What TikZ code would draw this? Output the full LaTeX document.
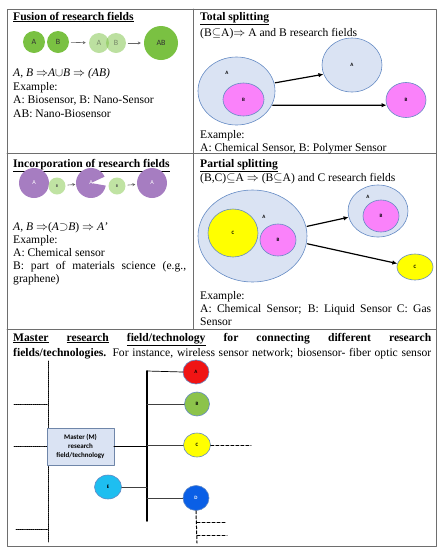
\documentclass[tikz,border=0pt]{standalone}
\usepackage{fontspec}
\setmainfont{Liberation Serif}
\newfontfamily\lblfont{Carlito}
\usetikzlibrary{shapes.geometric,arrows.meta}
\definecolor{frame_set}{RGB}{110,110,110}
\definecolor{fuse_set}{RGB}{122,193,66}
\definecolor{purple_set}{RGB}{166,125,193}
\definecolor{mint_set}{RGB}{192,227,163}
\definecolor{field_set}{RGB}{218,227,243}
\definecolor{edge_set}{RGB}{100,138,196}
\definecolor{pink_set}{RGB}{250,130,250}
\definecolor{yellow_set}{RGB}{255,255,0}
\definecolor{red_set}{RGB}{240,20,20}
\definecolor{green_set}{RGB}{140,195,75}
\definecolor{cyan_set}{RGB}{30,190,240}
\definecolor{blue_set}{RGB}{10,95,230}
\definecolor{box_set}{RGB}{218,227,243}
\colorlet{boxedge_set}{edge_set!60!gray}

\begin{document}
\begin{tikzpicture}[x=1pt,y=-1pt,line cap=round,line join=round,
  txt/.style={anchor=base west,inner sep=0pt,font=\fontsize{11.6}{13.3}\selectfont},
  fus/.style={circle,inner sep=0pt,minimum size=22pt,fill=fuse_set,
    font=\lblfont\fontsize{8}{9}\selectfont,text=black!80},
  inc/.style={circle,inner sep=0pt,minimum size=30pt,fill=purple_set,
    font=\lblfont\fontsize{6}{7}\selectfont,text=white},
  incb/.style={circle,inner sep=0pt,minimum size=17pt,fill=mint_set,
    font=\lblfont\bfseries\fontsize{4}{5}\selectfont,text=black!70},
  fld/.style={ellipse,draw=edge_set,line width=0.6pt,inner sep=0pt,
    font=\lblfont\bfseries\fontsize{5}{6}\selectfont},
  tag/.style={inner sep=0pt,font=\lblfont\bfseries\fontsize{5}{6}\selectfont},
  arrowgray/.style={draw=gray!80!black,line width=0.6pt,
    -{Stealth[length=3pt,width=3pt]},shorten <=2pt,shorten >=3pt},
  bigarrow/.style={line width=1.2pt,-{Latex[length=5pt,width=4.5pt]},shorten <=1pt},
  bus/.style={line width=1.8pt},
  branch/.style={line width=0.7pt,draw=black!75},
  dots/.style={densely dotted,line width=0.9pt},
  dashes/.style={dash pattern=on 3pt off 2pt,line width=1pt}]

\useasboundingbox (0,0) rectangle (444,550);

% Table frame
\coordinate (tl) at (7,9);
\coordinate (br) at (436,546);
\draw[line width=0.8pt,frame_set] (tl) rectangle (br);
\draw[line width=0.8pt,frame_set] (193,9) -- (193,329);
\draw[line width=0.8pt,frame_set] (7,153) -- (436,153);
\draw[line width=0.8pt,frame_set] (7,329) -- (436,329);

%-----------------------------------------------
% Fusion of research fields
%-----------------------------------------------
\node[txt] (t_fus0) at (13,20) {\underline{\textbf{Fusion of research fields}}};
\node[fus] (fA) at (34,42) {A};
\node[fus] (fB) at (58,42) {B};
\node[fus,minimum size=20pt,fill opacity=0.5] (fA2) at (99,43) {A};
\node[fus,minimum size=20pt,fill opacity=0.5] (fB2) at (116,43) {B};
\node[fus,minimum size=34pt] (fAB) at (161,43) {AB};
\draw[arrowgray] (fB) -- (fA2);
\draw[arrowgray] (fB2) -- (fAB);

\node[txt] (t_fus1) at (13,76) {\textit{A, B} $\Rightarrow$\textit{A}$\cup$\textit{B} $\Rightarrow$ \textit{(AB)}};
\node[txt] (t_fus2) at (13,90) {Example:};
\node[txt] (t_fus3) at (13,103) {A: Biosensor, B: Nano-Sensor};
\node[txt] (t_fus4) at (13,117) {AB: Nano-Biosensor};

%-----------------------------------------------
% Total splitting
%-----------------------------------------------
\node[txt] (t_tot0) at (200,20) {\underline{\textbf{Total splitting}}};
\node[txt] (t_tot1) at (200,36) {(B$\subseteq$A)$\Rightarrow$ A and B research fields};

\node[fld,fill=field_set,minimum width=77pt,minimum height=68pt] (tA) at (236.5,91) {};
\node[tag] (tA_lbl) at (227,73) {A};
\node[fld,fill=pink_set,minimum width=41pt,minimum height=33pt] (tB) at (243.5,99.5) {B};
\node[fld,fill=field_set,minimum width=60pt,minimum height=54pt] (tA2) at (352,65) {A};
\node[fld,fill=pink_set,minimum width=40pt,minimum height=35pt] (tB2) at (406,100) {B};
\draw[bigarrow] (tA.12) -- (tA2.198);
\draw[bigarrow] (tA.-22) -- (tB2.195);

\node[txt] (t_tot2) at (200,138) {Example:};
\node[txt] (t_tot3) at (200,151) {A: Chemical Sensor, B: Polymer Sensor};

%-----------------------------------------------
% Incorporation of research fields
%-----------------------------------------------
\node[txt] (t_inc0) at (13,167) {\underline{\textbf{Incorporation of research fields}}};
\node[inc] (iA) at (34,183) {A};
\node[incb] (iB) at (57,186) {B};
\fill[purple_set] (91,183) -- +(-25:15) arc[start angle=-25,end angle=-350,radius=15] -- cycle;
\node[inc,fill=none] (iA2) at (91,183) {A};
\node[incb] (iB2) at (117,186) {B};
\node[inc] (iA3) at (152,183) {A};
\draw[arrowgray,shorten >=0.5pt] (iB) -- (iA2);
\draw[arrowgray,shorten >=1.5pt] (iB2) -- (iA3);

\node[txt] (t_inc1) at (13,230) {\textit{A, B} $\Rightarrow$(\textit{A}$\supset$\textit{B}) $\Rightarrow$ \textit{A'}};
\node[txt] (t_inc2) at (13,243) {Example:};
\node[txt] (t_inc3) at (13,256) {A: Chemical sensor};
\node[txt] (t_inc4) at (13,269) {\makebox[173pt][s]{B: part of materials science (e.g.,}};
\node[txt] (t_inc5) at (13,282) {graphene)};

%-----------------------------------------------
% Partial splitting
%-----------------------------------------------
\node[txt] (t_par0) at (200,167) {\underline{\textbf{Partial splitting}}};
\node[txt] (t_par1) at (200,181) {(B,C)$\subseteq$A $\Rightarrow$ (B$\subseteq$A) and C research fields};

\node[fld,fill=field_set,minimum width=109pt,minimum height=92pt] (pA) at (252.5,236) {};
\node[tag] (pA_lbl) at (264,217) {A};
\node[fld,fill=yellow_set,minimum width=50pt,minimum height=48pt] (pC) at (233,233) {C};
\node[fld,fill=pink_set,minimum width=36pt,minimum height=32pt] (pB) at (278,240) {B};
\node[fld,fill=field_set,minimum width=60pt,minimum height=52pt] (pA2) at (378,211) {};
\node[tag] (pA2_lbl) at (368,197) {A};
\node[fld,fill=pink_set,minimum width=36pt,minimum height=32pt] (pB2) at (381,216) {B};
\node[fld,fill=yellow_set,minimum width=36pt,minimum height=26pt] (pC2) at (415,267) {C};
\draw[bigarrow] (pA.10) -- (pA2.192);
\draw[bigarrow] (pA.-8) -- (pC2.169);

\node[txt] (t_par2) at (200,299) {Example:};
\node[txt] (t_par3) at (200,312) {\makebox[231pt][s]{A: Chemical Sensor; B: Liquid Sensor C: Gas}};
\node[txt] (t_par4) at (200,325) {Sensor};

%-----------------------------------------------
% Master research field/technology
%-----------------------------------------------
\node[txt] (t_mst1) at (13,341) {\makebox[418pt][s]{\textbf{\underline{Master} \underline{research} \underline{field/technology} for connecting different research}}};
\node[txt] (t_mst2) at (13,356) {\makebox[418pt][s]{\textbf{fields/technologies.} For instance, wireless sensor network; biosensor- fiber optic sensor}};

% dotted frame on the left
\coordinate (dot_top) at (48,361);
\coordinate (dot_bot) at (48,542);
\draw[dots] (dot_top) -- (dot_bot);
\draw[dots] (14,404) -- (48,404);
\draw[dots] (14,446) -- (48,446);
\draw[dots] (16,529) -- (48,529);

\node[draw=boxedge_set,fill=box_set,line width=0.6pt,minimum width=67pt,minimum height=37pt,
  align=center,inner sep=1pt,font=\lblfont\bfseries\fontsize{7}{9}\selectfont] (mst)
  at (80.5,446.5) {Master (M)\\research\\field/technology};

\node[fld,fill=red_set,minimum width=26pt,minimum height=24pt] (cA) at (196,372) {A};
\node[fld,fill=green_set,minimum width=25pt,minimum height=24pt] (cB) at (197,404) {B};
\node[fld,fill=yellow_set,minimum width=27pt,minimum height=24pt] (cC) at (197,445) {C};
\node[fld,fill=blue_set,text=white,minimum width=26pt,minimum height=25pt] (cD) at (196,498) {D};
\node[fld,fill=cyan_set,minimum width=27pt,minimum height=24pt] (cE) at (108,487) {E};

\coordinate (bus_top) at (147,371);
\coordinate (bus_bot) at (147,521);
\draw[bus] (bus_top) -- (bus_bot);
\draw[bus] (mst.east) -- (bus_top |- mst.east);
\draw[branch,draw=black] (bus_top) -- (cA.west);
\draw[branch] (bus_top |- cB) -- (cB);
\draw[branch] (bus_top |- cC) -- (cC);
\draw[branch] (bus_top |- cD) -- (cD);
\draw[branch] (cE) -- (bus_top |- cE);

% dashed continuations
\coordinate (c_end) at (251,445);
\coordinate (d_end) at (197,543);
\draw[dashes] (cC.east) -- (c_end);
\draw[dashes] (cD.south) -- (d_end);
\draw[dashes] (197,522) -- (225,522);
\draw[dashes] (197,535) -- (227,535);

\end{tikzpicture}
\end{document}
